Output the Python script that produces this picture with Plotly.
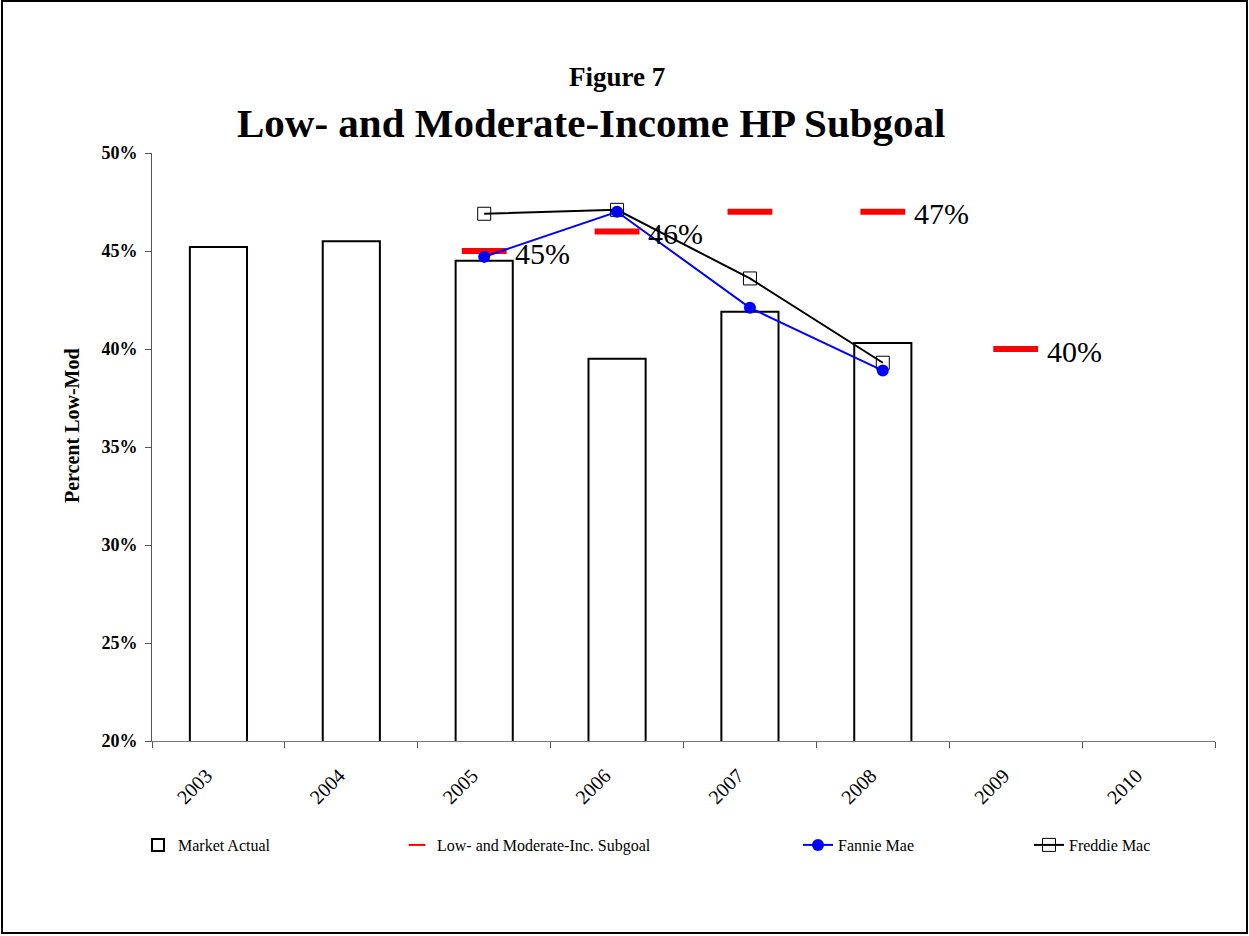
import plotly.graph_objects as go

years = ["2003", "2004", "2005", "2006", "2007", "2008", "2009", "2010"]
market_actual = [45.2, 45.5, 44.5, 39.5, 41.9, 40.3, None, None]
subgoal = [None, None, 45, 46, 47, 47, 40, None]
fannie_mae = [None, None, 44.7, 47.0, 42.1, 38.9, None, None]
freddie_mac = [None, None, 46.9, 47.1, 43.6, 39.3, None, None]
label_years = ["2005", "2006", "2008", "2009"]
label_values = [45, 46, 47, 40]

W, H = 1249, 936
L, R, T, B = 152, 34, 153, 195
PW, PH = W - L - R, H - T - B


def px(x):
    return (x - L) / PW


def py(y):
    return (H - B - y) / PH


SERIF = "Liberation Serif"

fig = go.Figure()
fig.add_trace(go.Bar(
    x=years, y=market_actual, name="Market Actual",
    marker=dict(color="white", line=dict(color="black", width=2)),
    legend="legend",
))
fig.add_trace(go.Scatter(
    x=years, y=subgoal, name="Low- and Moderate-Inc. Subgoal", mode="markers",
    marker=dict(symbol="line-ew", size=32, color="red",
                line=dict(color="red", width=6)),
    legend="legend2",
))
fig.add_trace(go.Scatter(
    x=years, y=freddie_mac, name="Freddie Mac", mode="lines+markers",
    line=dict(color="black", width=2),
    marker=dict(symbol="square-open", size=13, color="black",
                line=dict(color="black", width=1)),
    legend="legend4",
))
fig.add_trace(go.Scatter(
    x=years, y=fannie_mae, name="Fannie Mae", mode="lines+markers",
    line=dict(color="blue", width=2),
    marker=dict(symbol="circle", size=12, color="blue"),
    legend="legend3",
))

annotations = [
    dict(text="<b>Figure 7</b>", x=px(617), y=py(77), xref="paper", yref="paper",
         xanchor="center", yanchor="middle", showarrow=False,
         font=dict(family=SERIF, size=27, color="black")),
    dict(text="<b>Low- and Moderate-Income HP Subgoal</b>", x=px(591), y=py(123),
         xref="paper", yref="paper", xanchor="center", yanchor="middle",
         showarrow=False, font=dict(family=SERIF, size=41, color="black")),
    dict(text="<b>Percent Low-Mod</b>", x=px(72), y=py(426), xref="paper",
         yref="paper", xanchor="center", yanchor="middle", showarrow=False,
         textangle=-90, font=dict(family=SERIF, size=20, color="black")),
]
for yr, v in zip(label_years, label_values):
    annotations.append(dict(
        text=f"{v}%", x=years.index(yr), y=v, xref="x", yref="y", showarrow=False,
        xanchor="left", yanchor="middle", xshift=29, yshift=-2,
        font=dict(family=SERIF, size=30, color="black"),
    ))

legend_font = dict(family=SERIF, size=16, color="black")
ly = py(845)


def leg(xpix, **kw):
    d = dict(x=px(xpix - 40), y=ly, xanchor="left", yanchor="middle",
             orientation="h", font=legend_font, bgcolor="rgba(0,0,0,0)")
    d.update(kw)
    return d


fig.update_layout(
    width=W, height=H,
    margin=dict(l=L, r=R, t=T, b=B),
    paper_bgcolor="white", plot_bgcolor="white",
    bargap=0.57,
    showlegend=True,
    legend=leg(178),
    legend2=leg(437, itemsizing="constant"),
    legend3=leg(838),
    legend4=leg(1069),
    annotations=annotations,
    xaxis=dict(
        type="category", categoryorder="array", categoryarray=years,
        range=[-0.5, 7.5],
        tickson="boundaries", ticks="outside", ticklen=6, tickcolor="#555",
        tickangle=-45, ticklabelstandoff=14, ticklabelshift=-12,
        showline=True, linecolor="#777", linewidth=1,
        showgrid=False, zeroline=False,
        tickfont=dict(family=SERIF, size=20, color="black"),
    ),
    yaxis=dict(
        range=[20, 50], dtick=5, ticksuffix="%", tickprefix="<b>",
        ticks="outside", ticklen=6, tickcolor="#555", ticklabelstandoff=4,
        showline=True, linecolor="#555", linewidth=1,
        showgrid=False, zeroline=False,
        tickfont=dict(family=SERIF, size=18, color="black"),
    ),
    shapes=[dict(type="rect", xref="paper", yref="paper",
                 x0=px(2), x1=px(1247), y0=py(933), y1=py(1),
                 line=dict(color="black", width=2), fillcolor="rgba(0,0,0,0)")],
)

fig.write_html("out.html", config={"displayModeBar": False},
               post_script="document.body.style.margin='0';document.body.style.overflow='hidden';")
